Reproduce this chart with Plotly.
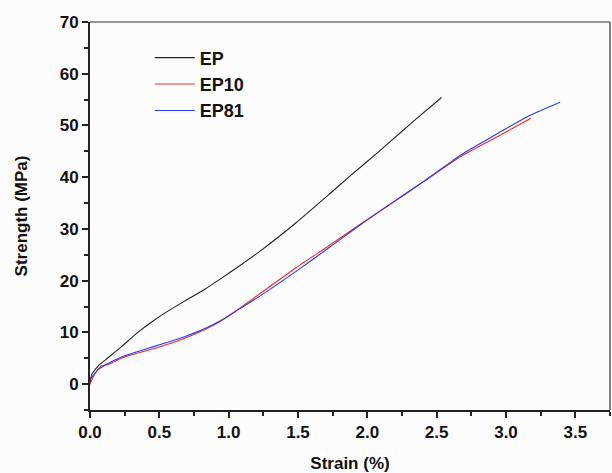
import plotly.graph_objects as go

# EP (black)
ep_x = [0, 0.01, 0.058, 0.13, 0.225, 0.345, 0.465, 0.585, 0.705, 0.825, 0.944, 1.064, 1.246, 1.486,
        1.725, 1.87, 2.085, 2.23, 2.38, 2.535]
ep_y = [0, 1.7, 3.5, 5.1, 7.2, 10.0, 12.4, 14.5, 16.4, 18.3, 20.4, 22.6, 26.1, 31.2,
        36.7, 40.1, 45.0, 48.4, 51.9, 55.4]

# EP10 (red)
ep10_x = [0, 0.034, 0.082, 0.13, 0.225, 0.345, 0.465, 0.585, 0.705, 0.825, 0.944, 1.064, 1.246, 1.486,
          1.725, 1.965, 2.3, 2.44, 2.68, 2.95, 3.18]
ep10_y = [0, 1.9, 3.5, 3.8, 5.0, 6.0, 6.9, 7.9, 9.1, 10.5, 12.2, 14.4, 17.9, 22.5,
          26.8, 31.2, 37.2, 39.8, 44.1, 48.0, 51.4]

# EP81 (blue)
ep81_x = [0, 0.058, 0.13, 0.225, 0.345, 0.465, 0.585, 0.705, 0.825, 0.944, 1.064, 1.246, 1.486,
          1.725, 1.965, 2.23, 2.44, 2.68, 2.95, 3.16, 3.39]
ep81_y = [0.8, 2.8, 4.0, 5.2, 6.3, 7.3, 8.3, 9.4, 10.7, 12.3, 14.3, 17.4, 21.8,
          26.4, 31.1, 36.0, 39.8, 44.4, 48.6, 51.8, 54.5]

series_names = ["EP", "EP10", "EP81"]
x_ticks = [0, 0.5, 1.0, 1.5, 2.0, 2.5, 3.0, 3.5]
x_tick_labels = ["0.0", "0.5", "1.0", "1.5", "2.0", "2.5", "3.0", "3.5"]
y_ticks = [0, 10, 20, 30, 40, 50, 60, 70]

FONT = "Liberation Sans, Arial, sans-serif"

fig = go.Figure()
for name, xs, ys, col in [
    (series_names[0], ep_x, ep_y, "#222222"),
    (series_names[1], ep10_x, ep10_y, "#ee2a2a"),
    (series_names[2], ep81_x, ep81_y, "#2a3aee"),
]:
    fig.add_trace(go.Scatter(x=xs, y=ys, mode="lines", name=name,
                             line=dict(color=col, width=1.1, shape="spline", smoothing=0.6)))

axis_common = dict(
    showgrid=False, zeroline=False, showline=True, linecolor="#222222", linewidth=2,
    ticks="outside", ticklen=6, tickwidth=2, tickcolor="#222222",
    tickfont=dict(family=FONT, size=17, color="#111111", weight="bold"),
    minor=dict(ticks="outside", ticklen=4, tickwidth=1.5, tickcolor="#222222"),
)

fig.update_xaxes(
    range=[0, 3.75], tickvals=x_ticks, ticktext=x_tick_labels,
    minor_dtick=0.25, minor_tick0=0,
    title=dict(text="Strain (%)", font=dict(family=FONT, size=17, color="#111111", weight="bold"), standoff=17),
    **axis_common,
)
fig.update_yaxes(
    range=[-5, 70], tickvals=y_ticks,
    minor_dtick=5, minor_tick0=-5,
    title=dict(text="Strength (MPa)", font=dict(family=FONT, size=17, color="#111111", weight="bold"), standoff=28),
    **axis_common,
)

# thin top/right frame lines
fig.add_shape(type="line", xref="paper", yref="paper", x0=0, x1=1, y0=1, y1=1,
              line=dict(color="#333333", width=1.2))
fig.add_shape(type="line", xref="paper", yref="paper", x0=1, x1=1, y0=0, y1=1,
              line=dict(color="#333333", width=1.2))

fig.update_layout(
    width=612, height=473,
    margin=dict(l=90, r=2, t=22, b=61),
    paper_bgcolor="#fcfcfc", plot_bgcolor="#fcfcfc",
    showlegend=True,
    legend=dict(x=0.115, y=0.955, xanchor="left", yanchor="top", bgcolor="rgba(0,0,0,0)",
                font=dict(family=FONT, size=18, color="#111111", weight="bold"),
                itemwidth=40, tracegroupgap=0),
)

fig.write_html("out.html", config={"displayModeBar": False},
               post_script="document.body.style.margin='0';document.body.style.padding='0';document.body.style.overflow='hidden';")
